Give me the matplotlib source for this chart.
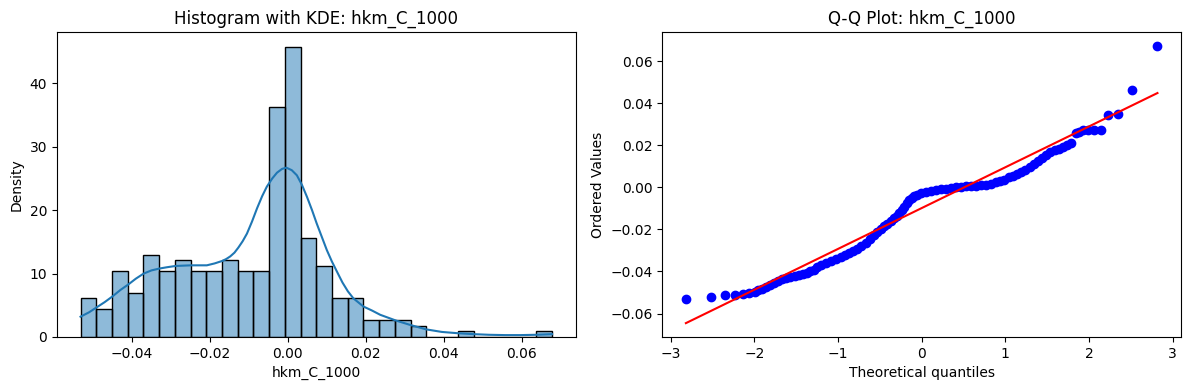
import numpy as np
import matplotlib
matplotlib.use("Agg")
import matplotlib.pyplot as plt

# ─────────────────────────────────────────
#  Data
# ─────────────────────────────────────────

var_name = "hkm_C_1000"

# histogram: 30 equal bins between the data min and max, density heights
bin_lo = -0.0532
bin_hi = 0.0678
bin_density = [6.1, 4.4, 10.4, 6.9, 12.9, 10.4, 12.2, 10.4, 10.4, 12.2,
               10.4, 10.4, 36.3, 45.8, 15.6, 11.2, 6.1, 6.1, 2.7, 2.7,
               2.7, 1.7, 0.0, 0.0, 0.9, 0.0, 0.0, 0.0, 0.0, 0.9]

# KDE curve
kde_x = [-0.0532, -0.0510, -0.0490, -0.0470, -0.0450, -0.0430, -0.0409,
         -0.0390, -0.0370, -0.0350, -0.0329, -0.0310, -0.0288, -0.0249,
         -0.0208, -0.0188, -0.0168, -0.0158, -0.0148, -0.0137, -0.0127,
         -0.0116, -0.0105, -0.0092, -0.0079, -0.0066, -0.0054, -0.0040,
         -0.0028, -0.0015, -0.0004, 0.0010, 0.0023, 0.0036, 0.0049, 0.0062,
         0.0074, 0.0087, 0.0100, 0.0113, 0.0126, 0.0140, 0.0154, 0.0168,
         0.0194, 0.0215, 0.0237, 0.0277, 0.0314, 0.0355, 0.0395, 0.0435,
         0.0476, 0.0516, 0.0557, 0.0597, 0.0637, 0.0678]
kde_y = [3.2, 3.9, 4.7, 5.5, 6.4, 7.4, 8.3,
         9.2, 10.0, 10.5, 10.8, 11.0, 11.2, 11.3,
         11.3, 11.6, 12.0, 12.3, 12.7, 13.3, 14.1,
         15.1, 16.3, 18.2, 20.3, 22.2, 23.7, 25.0,
         25.9, 26.5, 26.7, 26.3, 25.5, 24.0, 22.1, 20.0,
         17.9, 15.8, 13.7, 11.9, 10.3, 8.6, 7.2, 6.1,
         4.8, 4.2, 3.5, 2.6, 1.9, 1.2, 0.8, 0.6,
         0.45, 0.35, 0.3, 0.3, 0.35, 0.45]

# Q-Q plot: theoretical quantiles vs ordered values
qq_theoretical = [-2.82, -2.52, -2.35, -2.23, -2.14, -2.06, -1.99, -1.96,
                  -1.91, -1.86, -1.81, -1.77, -1.72, -1.67, -1.62, -1.57,
                  -1.52, -1.47, -1.42, -1.37, -1.33, -1.29, -1.25, -1.21,
                  -1.15, -1.09, -1.03, -0.97, -0.92, -0.87, -0.82, -0.77,
                  -0.72, -0.67, -0.62, -0.57, -0.53, -0.49, -0.45, -0.41,
                  -0.37, -0.33, -0.30, -0.27, -0.24, -0.21, -0.18, -0.15,
                  -0.12, -0.09, -0.05, -0.01, 0.05, 0.11, 0.17, 0.23,
                  0.29, 0.35, 0.41, 0.47, 0.53, 0.59, 0.65, 0.71,
                  0.77, 0.83, 0.89, 0.94, 0.99, 1.04, 1.09, 1.14,
                  1.19, 1.24, 1.29, 1.34, 1.39, 1.44, 1.49, 1.54,
                  1.59, 1.64, 1.69, 1.74, 1.79, 1.84, 1.88, 1.93,
                  1.99, 2.06, 2.14, 2.23, 2.35, 2.52, 2.82]
qq_ordered = [-0.0532, -0.0522, -0.0514, -0.0510, -0.0505, -0.0500, -0.0496, -0.0490,
              -0.0485, -0.0474, -0.0466, -0.0455, -0.0444, -0.0437, -0.0432, -0.0427,
              -0.0423, -0.0419, -0.0414, -0.0407, -0.0400, -0.0391, -0.0381, -0.0370,
              -0.0359, -0.0349, -0.0340, -0.0330, -0.0321, -0.0311, -0.0301, -0.0291,
              -0.0278, -0.0264, -0.0246, -0.0227, -0.0213, -0.0200, -0.0186, -0.0172,
              -0.0160, -0.0148, -0.0136, -0.0123, -0.0108, -0.0092, -0.0076, -0.0060,
              -0.0050, -0.0041, -0.0034, -0.0029, -0.0022, -0.0016, -0.0013, -0.0010,
              -0.0006, -0.0002, 0.0000, 0.0003, 0.0005, 0.0007, 0.0008, 0.0009,
              0.0013, 0.0018, 0.0025, 0.0031, 0.0036, 0.0047, 0.0055, 0.0064,
              0.0072, 0.0081, 0.0095, 0.0110, 0.0125, 0.0138, 0.0155, 0.0170,
              0.0178, 0.0183, 0.0192, 0.0201, 0.0212, 0.0258, 0.0265, 0.0272,
              0.0275, 0.0274, 0.0273, 0.0344, 0.0349, 0.0462, 0.0673]

# least-squares fit line of the Q-Q plot
fit_slope = 0.0194
fit_intercept = -0.00985


# ─────────────────────────────────────────
#  Plots
# ─────────────────────────────────────────

def plot_hist_kde(ax):
    edges = np.linspace(bin_lo, bin_hi, len(bin_density) + 1)
    ax.bar(edges[:-1], bin_density, width=np.diff(edges), align="edge",
           color="#1f77b4", alpha=0.5, edgecolor="none")
    ax.bar(edges[:-1], bin_density, width=np.diff(edges), align="edge",
           fill=False, edgecolor="black", linewidth=1.0)
    ax.plot(kde_x, kde_y, color="#1f77b4", linewidth=1.5)
    ax.set_title(f"Histogram with KDE: {var_name}")
    ax.set_xlabel(var_name)
    ax.set_ylabel("Density")


def plot_qq(ax):
    osm = np.array(qq_theoretical)
    ax.plot(osm, qq_ordered, "bo", markersize=6)
    ends = np.array([osm.min(), osm.max()])
    ax.plot(ends, fit_slope * ends + fit_intercept, "r-", linewidth=1.5)
    ax.set_title(f"Q-Q Plot: {var_name}")
    ax.set_xlabel("Theoretical quantiles")
    ax.set_ylabel("Ordered Values")


fig, (ax1, ax2) = plt.subplots(1, 2, figsize=(11.89, 3.90), dpi=100)
fig.subplots_adjust(left=0.0479, right=0.9933, bottom=0.1359, top=0.918,
                    wspace=0.167)

plot_hist_kde(ax1)
plot_qq(ax2)

fig.savefig("out.png", dpi=100)
